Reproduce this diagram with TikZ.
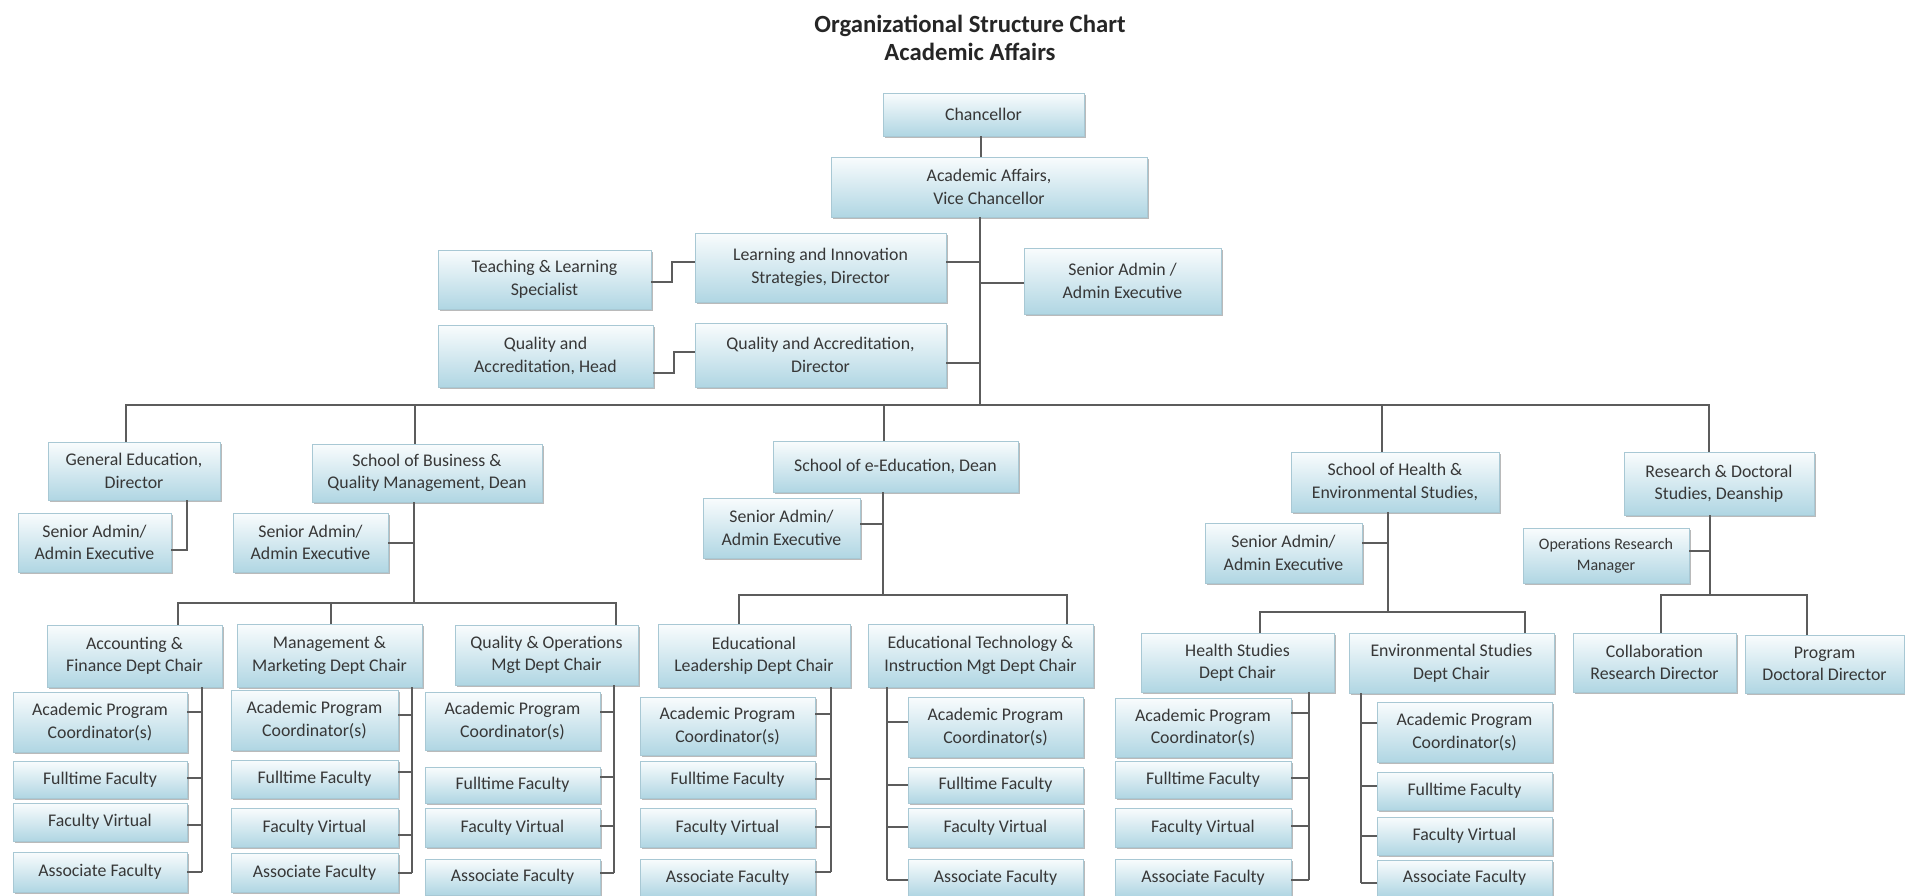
\documentclass[tikz,border=0pt]{standalone}
\usepackage{fontspec}
\setmainfont{Carlito}
\usetikzlibrary{shadows}
\definecolor{boxtop}{RGB}{249,252,253}
\definecolor{boxbot}{RGB}{176,214,227}
\definecolor{boxedge}{RGB}{168,200,212}
\definecolor{linec}{RGB}{92,92,92}
\definecolor{txtc}{RGB}{55,55,55}
\newcommand\boxfont{\fontsize{17.8bp}{22.5bp}\selectfont}
\newcommand\bx[7][]{\node[box,#1,minimum width={(#5-#3)*1bp},minimum height={(#6-#4)*1bp}] (#2) at ({(#3+#5)/2},{(#4+#6)/2}) {#7};}
\tikzset{
  box/.style={draw=boxedge, line width=0.8bp, top color=boxtop, bottom color=boxbot,
    drop shadow={shadow xshift=1.8bp, shadow yshift=-2bp, fill=black!60, opacity=0.45},
    align=center, inner sep=0pt, font=\boxfont, text=txtc},
  conn/.style={draw=linec, line width=2bp}
}
\begin{document}
\begin{tikzpicture}[x=1bp,y=-1bp]
\fill[white] (0,0) rectangle (1905,896);
\useasboundingbox (0,0) rectangle (1905,896);
% title
\node[anchor=base, font=\bfseries\fontsize{24.7bp}{28bp}\selectfont, text=black!85] (title1) at (970,32) {Organizational Structure Chart};
\node[anchor=base, font=\bfseries\fontsize{24.7bp}{28bp}\selectfont, text=black!85] (title2) at (970,60) {Academic Affairs};
% top level
\bx{chan}{883}{93}{1084}{136}{Chancellor}
\bx{aa}{831}{157}{1147}{217}{Academic Affairs,\\Vice Chancellor}
\bx{lis}{695}{233}{946}{302}{Learning and Innovation\\Strategies, Director}
\bx{tls}{438}{250}{651}{309}{Teaching \& Learning\\Specialist}
\bx{sat}{1024}{248}{1221}{314}{Senior Admin /\\Admin Executive}
\bx{qad}{695}{323}{946}{387}{Quality and Accreditation,\\Director}
\bx{qah}{438}{325}{653}{387}{Quality and\\Accreditation, Head}
% schools
\bx{ge}{48}{442}{220}{500}{General Education,\\Director}
\bx{sb}{312}{444}{542}{502}{School of Business \&\\Quality Management, Dean}
\bx{ee}{773}{441}{1018}{492}{School of e-Education, Dean}
\bx{hs}{1291}{452}{1499}{512}{School of Health \&\\Environmental Studies,}
\bx{rd}{1624}{452}{1814}{515}{Research \& Doctoral\\Studies, Deanship}
% staff
\bx{gesa}{18}{513}{171}{572}{Senior Admin/\\Admin Executive}
\bx{sbsa}{233}{513}{388}{572}{Senior Admin/\\Admin Executive}
\bx{eesa}{703}{498}{860}{558}{Senior Admin/\\Admin Executive}
\bx{hssa}{1205}{523}{1362}{583}{Senior Admin/\\Admin Executive}
\bx[font=\fontsize{16bp}{21bp}\selectfont]{orm}{1523}{528}{1689}{583}{Operations Research\\Manager}
% chairs
\bx{acc}{47}{625}{222}{687}{Accounting \&\\Finance Dept Chair}
\bx{mm}{237}{624}{422}{687}{Management \&\\Marketing Dept Chair}
\bx{qo}{455}{625}{638}{685}{Quality \& Operations\\Mgt Dept Chair}
\bx{el}{658}{624}{850}{687}{Educational\\Leadership Dept Chair}
\bx{et}{868}{624}{1093}{687}{Educational Technology \&\\Instruction Mgt Dept Chair}
\bx{hsd}{1141}{633}{1334}{692}{Health Studies\\Dept Chair}
\bx{env}{1349}{633}{1554}{693}{Environmental Studies\\Dept Chair}
\bx{col}{1573}{633}{1736}{692}{Collaboration\\Research Director}
\bx{prg}{1745}{635}{1904}{693}{Program\\Doctoral Director}
% faculty: accounting
\bx{acc1}{13}{692}{187}{752}{Academic Program\\Coordinator(s)}
\bx{acc2}{13}{761}{187}{798}{Fulltime Faculty}
\bx{acc3}{13}{803}{187}{841}{Faculty Virtual}
\bx{acc4}{13}{852}{187}{892}{Associate Faculty}
% management
\bx{mm1}{231}{690}{398}{750}{Academic Program\\Coordinator(s)}
\bx{mm2}{231}{760}{398}{798}{Fulltime Faculty}
\bx{mm3}{231}{808}{398}{847}{Faculty Virtual}
\bx{mm4}{231}{853}{398}{892}{Associate Faculty}
% quality & operations
\bx{qo1}{425}{692}{600}{750}{Academic Program\\Coordinator(s)}
\bx{qo2}{425}{767}{600}{803}{Fulltime Faculty}
\bx{qo3}{425}{808}{600}{847}{Faculty Virtual}
\bx{qo4}{425}{859}{600}{895}{Associate Faculty}
% educational leadership
\bx{el1}{640}{697}{815}{755}{Academic Program\\Coordinator(s)}
\bx{el2}{640}{761}{815}{798}{Fulltime Faculty}
\bx{el3}{640}{808}{815}{847}{Faculty Virtual}
\bx{el4}{640}{859}{815}{896}{Associate Faculty}
% educational technology
\bx{et1}{908}{697}{1083}{757}{Academic Program\\Coordinator(s)}
\bx{et2}{908}{767}{1083}{803}{Fulltime Faculty}
\bx{et3}{908}{808}{1083}{847}{Faculty Virtual}
\bx{et4}{908}{859}{1083}{896}{Associate Faculty}
% health studies
\bx{hsd1}{1115}{698}{1291}{757}{Academic Program\\Coordinator(s)}
\bx{hsd2}{1115}{761}{1291}{798}{Fulltime Faculty}
\bx{hsd3}{1115}{808}{1291}{847}{Faculty Virtual}
\bx{hsd4}{1115}{859}{1291}{896}{Associate Faculty}
% environmental studies
\bx{env1}{1377}{702}{1552}{762}{Academic Program\\Coordinator(s)}
\bx{env2}{1377}{772}{1552}{810}{Fulltime Faculty}
\bx{env3}{1377}{817}{1552}{855}{Faculty Virtual}
\bx{env4}{1377}{860}{1552}{896}{Associate Faculty}

% ---------- connectors ----------
\draw[conn] (chan.south -| 981,0) -- (aa.north -| 981,0);
\draw[conn] (aa.south -| 980,0) -- (980,405);
\draw[conn] (lis.east |- 0,262) -- (980,262);
\draw[conn] (sat.west |- 0,283) -- (980,283);
\draw[conn] (qad.east |- 0,363) -- (980,363);
\draw[conn] (tls.east |- 0,282) -- (672,282) -- (672,262) -- (lis.west |- 0,262);
\draw[conn] (qah.east |- 0,373) -- (674,373) -- (674,352) -- (qad.west |- 0,352);
% main bus
\draw[conn] (126,405) -- (1709,405);
\draw[conn] (126,404) -- (ge.north -| 126,0);
\draw[conn] (414.5,404) -- (sb.north -| 414.5,0);
\draw[conn] (884,404) -- (ee.north -| 884,0);
\draw[conn] (1382,404) -- (hs.north -| 1382,0);
\draw[conn] (1709,404) -- (rd.north -| 1709,0);
% general education
\draw[conn] (ge.south -| 186.5,0) -- (186.5,550) -- (gesa.east |- 0,550);
% business
\draw[conn] (sb.south -| 414,0) -- (414,603);
\draw[conn] (sbsa.east |- 0,543) -- (414,543);
\draw[conn] (178,603) -- (616,603);
\draw[conn] (178,602) -- (acc.north -| 178,0);
\draw[conn] (331,602) -- (mm.north -| 331,0);
\draw[conn] (616,602) -- (qo.north -| 616,0);
% e-education
\draw[conn] (ee.south -| 883,0) -- (883,595);
\draw[conn] (eesa.east |- 0,524) -- (883,524);
\draw[conn] (739,595) -- (1067,595);
\draw[conn] (739,594) -- (el.north -| 739,0);
\draw[conn] (1067,594) -- (et.north -| 1067,0);
% health
\draw[conn] (hs.south -| 1388,0) -- (1388,612);
\draw[conn] (hssa.east |- 0,543) -- (1388,543);
\draw[conn] (1260,612) -- (1525,612);
\draw[conn] (1260,611) -- (hsd.north -| 1260,0);
\draw[conn] (1525,611) -- (env.north -| 1525,0);
% research
\draw[conn] (rd.south -| 1710,0) -- (1710,595);
\draw[conn] (orm.east |- 0,551) -- (1710,551);
\draw[conn] (1661,595) -- (1807,595);
\draw[conn] (1661,594) -- (col.north -| 1661,0);
\draw[conn] (1807,594) -- (prg.north -| 1807,0);
% faculty columns
\draw[conn] (acc.south -| 202,0) -- (202,872);
\draw[conn] (acc1.east |- 0,712) -- (202,712);
\draw[conn] (acc2.east |- 0,778) -- (202,778);
\draw[conn] (acc3.east |- 0,825) -- (202,825);
\draw[conn] (acc4.east |- 0,872) -- (202,872);
\draw[conn] (mm.south -| 412,0) -- (412,873);
\draw[conn] (mm1.east |- 0,715) -- (412,715);
\draw[conn] (mm2.east |- 0,772) -- (412,772);
\draw[conn] (mm3.east |- 0,835) -- (412,835);
\draw[conn] (mm4.east |- 0,873) -- (412,873);
\draw[conn] (qo.south -| 614,0) -- (614,873);
\draw[conn] (qo1.east |- 0,712) -- (614,712);
\draw[conn] (qo2.east |- 0,777) -- (614,777);
\draw[conn] (qo3.east |- 0,826) -- (614,826);
\draw[conn] (qo4.east |- 0,873) -- (614,873);
\draw[conn] (el.south -| 831,0) -- (831,872);
\draw[conn] (el1.east |- 0,714) -- (831,714);
\draw[conn] (el2.east |- 0,779) -- (831,779);
\draw[conn] (el3.east |- 0,827) -- (831,827);
\draw[conn] (el4.east |- 0,872) -- (831,872);
\draw[conn] (et.south -| 887,0) -- (887,880);
\draw[conn] (et1.west |- 0,722) -- (887,722);
\draw[conn] (et2.west |- 0,785) -- (887,785);
\draw[conn] (et3.west |- 0,827) -- (887,827);
\draw[conn] (et4.west |- 0,880) -- (887,880);
\draw[conn] (hsd.south -| 1309,0) -- (1309,880);
\draw[conn] (hsd1.east |- 0,713) -- (1309,713);
\draw[conn] (hsd2.east |- 0,778) -- (1309,778);
\draw[conn] (hsd3.east |- 0,826) -- (1309,826);
\draw[conn] (hsd4.east |- 0,880) -- (1309,880);
\draw[conn] (env.south -| 1361,0) -- (1361,883);
\draw[conn] (env1.west |- 0,723) -- (1361,723);
\draw[conn] (env2.west |- 0,786) -- (1361,786);
\draw[conn] (env3.west |- 0,836) -- (1361,836);
\draw[conn] (env4.west |- 0,883) -- (1361,883);
\end{tikzpicture}
\end{document}
